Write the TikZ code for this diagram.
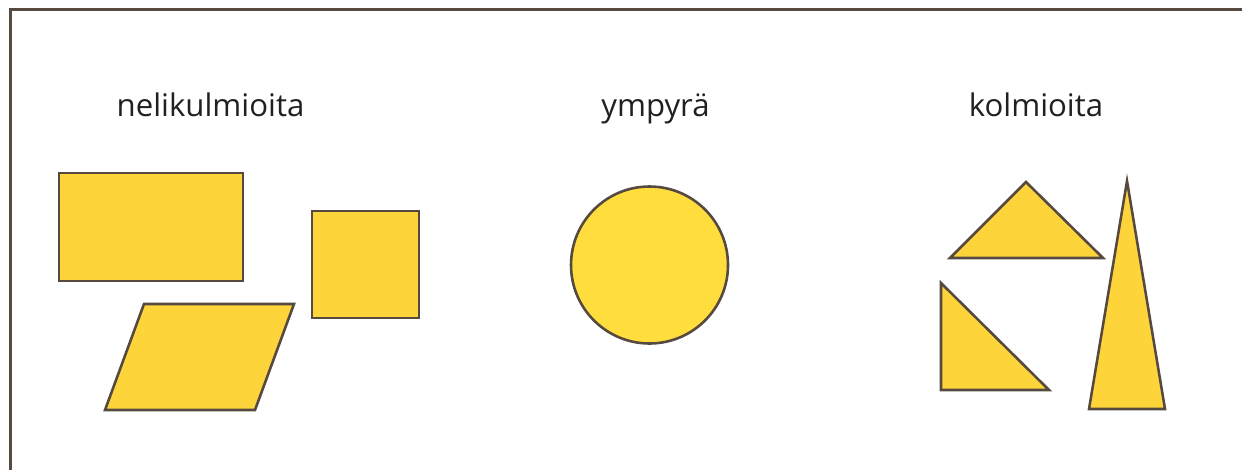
\documentclass[tikz,border=0pt]{standalone}
\usepackage{fontspec}
\setmainfont{Open Sans}
\usepackage{xcolor}
\definecolor{shapefill}{HTML}{FDD53B}
\definecolor{discfill}{HTML}{FFDD3D}
\definecolor{edgecol}{HTML}{56493F}
\definecolor{textcol}{HTML}{231F20}

\begin{document}
\begin{tikzpicture}[
  x=0.03cm, y=-0.03cm,
  figure/.style={draw=edgecol, fill=shapefill, line width=2.2pt,
                 line join=miter},
  title/.style={anchor=base, inner sep=0pt, text=textcol,
                font=\fontsize{26.6}{31}\selectfont}
]
\useasboundingbox (0,0) rectangle (1242,470);
% frame
\draw[edgecol, line width=2.3pt] (10.5,470) -- (10.5,9.5) -- (1242,9.5);

% titles
\node[title] (quad) at (210.5,116) {nelikulmioita};
\node[title] (circ) at (655.5,116) {ympyrä};
\node[title] (tri)  at (1036,116)  {kolmioita};

% quadrilaterals
\draw[figure] (59,173) rectangle (243,281);
\draw[figure] (312,211) rectangle (419,318);
\draw[figure] (144,304) -- (294,304) -- (255,410) -- (105,410) -- cycle;

% circle
\draw[figure, fill=discfill] (649.5,265) circle[radius=78.5];

% triangles
\draw[figure] (1026,182) -- (1103,258) -- (950,258) -- cycle;
\draw[figure] (941,283) -- (1049,390) -- (941,390) -- cycle;
\draw[figure] (1127,181) -- (1165,409) -- (1089,409) -- cycle;
\end{tikzpicture}
\end{document}
